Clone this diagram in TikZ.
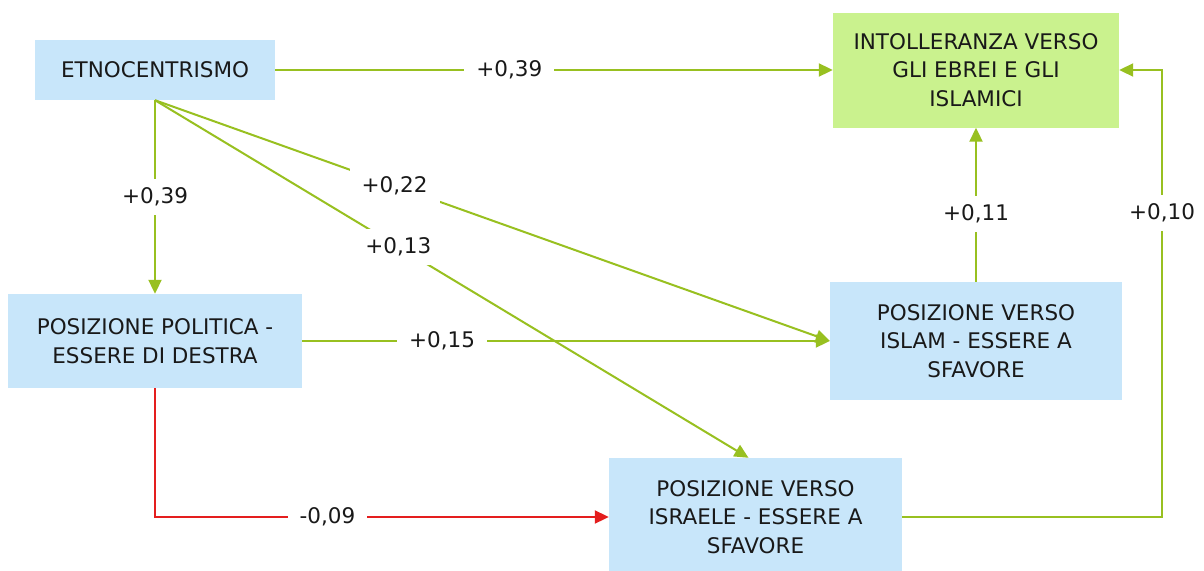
\documentclass[tikz,border=0pt]{standalone}
\usepackage{fontspec}
\setmainfont{DejaVu Sans}
\usetikzlibrary{arrows.meta}
\definecolor{boxblue}{RGB}{200,230,250}
\definecolor{boxgreen}{RGB}{202,242,142}
\definecolor{lgreen}{RGB}{152,192,32}
\definecolor{ared}{RGB}{228,30,30}
\definecolor{txt}{RGB}{25,25,25}
\tikzset{
  vbox/.style={fill=boxblue, draw=none, align=center, text=txt, inner sep=0pt,
    font=\fontsize{21.5}{28.5}\selectfont},
  gbox/.style={vbox, fill=boxgreen},
  conn/.style={draw=lgreen, line width=2pt, -{Triangle[length=14pt,width=13pt]}},
  redconn/.style={draw=ared, line width=2pt, -{Triangle[length=14pt,width=13pt]}},
  lab/.style={fill=white, text=txt, inner xsep=12pt, inner ysep=9pt,
    font=\fontsize{21.5}{26}\selectfont}
}
\begin{document}
\begin{tikzpicture}[x=1pt,y=-1pt]
\useasboundingbox[fill=white] (0,0) rectangle (1204,570);
\node[vbox, minimum width=240pt, minimum height=60pt] (etno) at (155,70) {ETNOCENTRISMO};
\node[gbox, minimum width=286pt, minimum height=115pt] (intol) at (976,70) {INTOLLERANZA VERSO\\GLI EBREI E GLI\\ISLAMICI};
\node[vbox, minimum width=294pt, minimum height=94pt] (pol) at (155,341) {POSIZIONE POLITICA -\\ESSERE DI DESTRA};
\node[vbox, minimum width=292pt, minimum height=118pt] (islam) at (976,341) {POSIZIONE VERSO\\ISLAM - ESSERE A\\SFAVORE};
\node[vbox, minimum width=293pt, minimum height=118pt] (isr) at (755.5,517) {POSIZIONE VERSO\\ISRAELE - ESSERE A\\SFAVORE};
\coordinate (c1) at (1162,517);
\coordinate (c2) at (1162,70);
% connectors
\draw[conn] (etno.east) -- node[lab, pos=0.42] {+0,39} (intol.west);
\draw[conn] (etno.south) -- node[lab, pos=0.5] {+0,39} (pol.north);
\draw[conn] (etno.south) -- node[lab, pos=0.355] {+0,22} (islam.west);
\draw[conn] (etno.south) -- node[lab, pos=0.41] {+0,13} ([xshift=-7pt]isr.north);
\draw[conn] (pol.east) -- node[lab, pos=0.265] {+0,15} (islam.west);
\draw[redconn] (pol.south) |- node[lab, pos=0.69] {-0,09} (isr.west);
\draw[conn] (islam.north) -- node[lab, pos=0.44] {+0,11} (intol.south);
\draw[conn] (isr.east) -- (c1) -- node[lab, pos=0.68] {+0,10} (c2) -- (intol.east);
\end{tikzpicture}
\end{document}
